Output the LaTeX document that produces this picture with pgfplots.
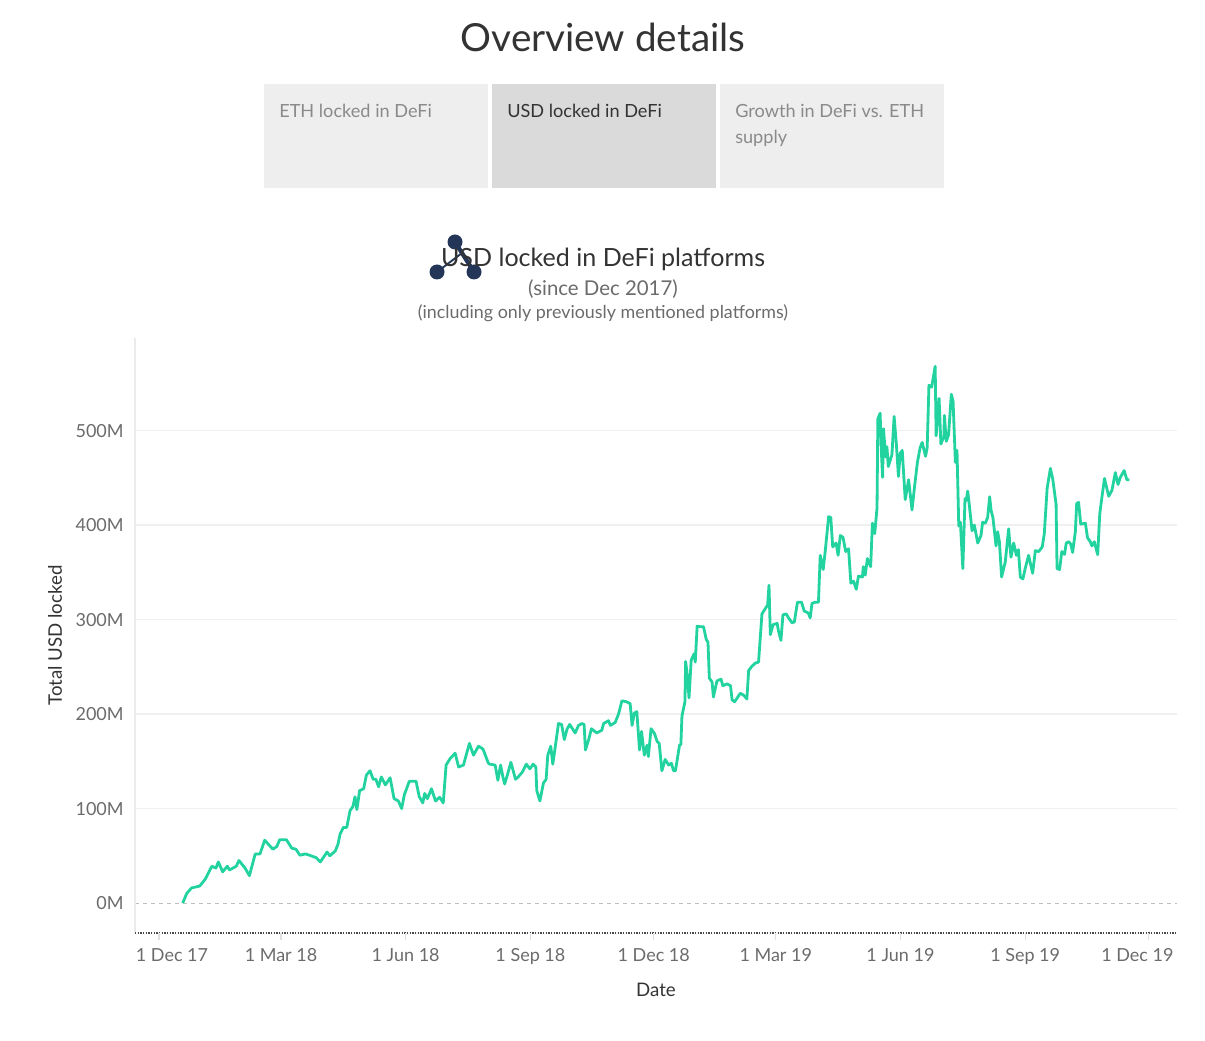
\documentclass[border=0pt]{standalone}
\usepackage{pgfplots}
\pgfplotsset{compat=1.18}
\usepackage{fontspec}
\setmainfont{Lato}

\definecolor{titlegray}{HTML}{333333}
\definecolor{tickgray}{HTML}{6B6B6B}
\definecolor{tabgray}{HTML}{8A8A8A}
\definecolor{tabfill}{HTML}{EEEEEE}
\definecolor{tabsel}{HTML}{DADADA}
\definecolor{gridgray}{HTML}{F0F0F0}
\definecolor{defigreen}{HTML}{22D3A0}
\definecolor{iconnavy}{HTML}{243657}

\begin{document}
\begin{tikzpicture}
% page frame and header, in pixel units (y measured up from the bottom)
\begin{scope}[x=0.75pt,y=0.75pt]
  \path (0,0) rectangle (1205,1040);
  \node[anchor=base, text=titlegray, font=\fontsize{29}{34}\selectfont] at (603,988) {Overview details};

  % tabs
  \fill[tabfill] (264,852) rectangle (488,956);
  \fill[tabsel]  (492,852) rectangle (716,956);
  \fill[tabfill] (720,852) rectangle (944,956);
  \node[anchor=base west, inner sep=0, text=tabgray, font=\fontsize{13.6}{19.5}\selectfont] at (279,922) {ETH locked in DeFi};
  \node[anchor=base west, inner sep=0, text=titlegray, font=\fontsize{13.6}{19.5}\selectfont] at (507,922) {USD locked in DeFi};
  \node[anchor=base west, inner sep=0, text=tabgray, font=\fontsize{13.6}{19.5}\selectfont] at (735,922) {Growth in DeFi vs. ETH};
  \node[anchor=base west, inner sep=0, text=tabgray, font=\fontsize{13.6}{19.5}\selectfont] at (735,896) {supply};

  % chart titles
  \draw[iconnavy, line width=3.2pt] (455,798) -- (474,768);
  \draw[iconnavy, line width=1.4pt] (437,768) -- (462,787);
  \fill[iconnavy] (455,798) circle (7.5);
  \fill[iconnavy] (437,768) circle (7.5);
  \fill[iconnavy] (474,768) circle (7.5);
  \node[anchor=base, text=titlegray, font=\fontsize{18.8}{22}\selectfont] at (603,773) {USD locked in DeFi platforms};
  \node[anchor=base, text=tickgray, font=\fontsize{15.3}{18}\selectfont] at (603,744) {(since Dec 2017)};
  \node[anchor=base, text=tickgray, font=\fontsize{13.4}{16}\selectfont] at (603,721) {(including only previously mentioned platforms)};
\end{scope}

\begin{axis}[
  at={(101.25pt,80.25pt)}, anchor=south west,
  width=781.5pt, height=446.25pt, scale only axis,
  xmin=-17.7, xmax=751, ymin=-31.7, ymax=598,
  axis line style={draw=none},
  major tick length=0pt,
  ytick={100,200,300,400,500},
  yticklabels={100M,200M,300M,400M,500M},
  extra y ticks={0}, extra y tick labels={0M},
  extra y tick style={grid style={draw=black!25, dashed, line width=0.6pt}},
  ymajorgrids,
  grid style={draw=gridgray, line width=1.3pt},
  xtick={9.6,90,182,274,365,455,547,639,721.8},
  xticklabels={1 Dec 17,1 Mar 18,1 Jun 18,1 Sep 18,1 Dec 18,1 Mar 19,1 Jun 19,1 Sep 19,1 Dec 19},
  tick label style={text=tickgray, font=\fontsize{13.5}{16}\selectfont},
  yticklabel style={anchor=east, xshift=-5pt},
  xticklabel style={anchor=base, yshift=-21.5pt},
  xlabel={Date},
  ylabel={Total USD locked},
  label style={text=titlegray, font=\fontsize{14}{16}\selectfont},
  xlabel style={at={(axis description cs:0.5,-0.096)}, anchor=center},
  ylabel style={at={(axis description cs:-0.0768,0.5)}, anchor=center, rotate=0},
  clip=false,
]
% axis frame lines
\draw[draw=black!8, line width=1pt] (rel axis cs:0,0) -- (rel axis cs:0,1);
\draw[draw=black!70, line width=1pt, densely dotted] (rel axis cs:0,0) -- (rel axis cs:1,0);
\pgfplotsinvokeforeach{0,90,182,274,365,455,547,639,730}{
  \draw[draw=black!12, line width=0.8pt] (axis cs:#1,-31.7) -- ++(0pt,-5pt);
}

\addplot[defigreen, line width=2.1pt, line join=round] coordinates {
(17.5,0)(20.4,10)(24,16)(30,18)(34,25)(39,39)(42,37)(43.8,43.5)(47,33)(50.4,39)(52,35)(57,39)(59,45)(63.5,37)(66.7,29)(71,52)(74.5,52)(78,66.5)(84,57)(87,60)(89,67)(94,67)(98,58)(101,57)(104,50.6)(108,52)(111,50.6)(116,48)(119,43.5)(124,54)(126,50)(130,55)(132,62)(133.6,73)(136,80)(138.5,80)(141,98)(143,102)(144.6,112.5)(146,99)(148,119)(151,121)(153,135.5)(155.7,140)(158,131)(160,131)(162,123)(164,133.5)(167,125)(170.5,132.6)(173.4,110.5)(176.6,108)(179,100)(181,114.6)(184.7,129)(189.6,129)(192,112.5)(194.6,106)(196,116)(198,110.5)(201,121)(204,108)(207,112)(209.7,106)(211.8,146)(214.8,153)(218.5,158.6)(221,144)(224.6,146)(226.6,156.5)(229,169)(232,156.5)(235.7,166)(239,163)(243,148)
(244,147)(248,146)(250,130)(252,146)(253.7,133.5)(255,126)(257,135.5)(259.6,149)(263,131)(265,133.5)(268,138.5)(271,147)(273.6,142)(276,147)(278,144)(278.7,119)(281,108)(283.6,127)(285.6,131)(286.8,156.5)(289,166)(290.5,147)(292,162)(294.7,190)(297,189)(299,173)(301,184)(303,189)(307,180)(309.5,188)(312,190)(313.6,189)(314.6,162)(317,173)(319,184.5)(323,180)(326.7,183)(328,190)(331.6,193)(333,188)(336.5,191)(339,200)(341.5,214)(345,213)(347.6,211)(349,188)(350.6,201)(352.5,202.5)(354.5,162)(356,181.6)(358,156.5)(360,167)(361,155)(363,184.5)(365.5,179.5)(367.5,171)(369,169)(371,140)(373.4,152)(376,146)(378,148)(379.6,140)(381,140)(384,167)(385,168)(385.8,198)(388,213)(388.5,255.6)(390,238)(391,217)(392.6,257)(394.8,264)(395.6,255)(397,293)(399,292.5)(401.7,292.5)(403.7,279)(405,276)(406,238)(408,234)(409,218)(411.6,235)(414.6,237)(416,230)(419,232)(421.6,230)(422.8,215)(424.6,213)(427,218)(428.8,222)(431.3,220)(433.7,216)(435,246)(437.4,250.6)(440,254)(442.3,255)(444.8,306)(447,311)(449,315.5)(450,336.4)(451,284)(453,294.6)(456,296)(457,288)(458.8,278)(460.3,305)(462.7,306)(464.5,301.7)(467,296.6)(468.7,297.5)(471,318.4)(474,318.4)(476,309)(479,307)(480.4,301.7)(481.7,317)(484,318.4)(486.5,318.4)
(487.8,368)(490,353)(491.6,374)(494,409)(495.6,408)(497,377)(499.5,381)(501,368)(502.6,389)(504.6,387)(506.6,372)(508.7,375)(510.4,338.5)(512.4,340.6)(514.4,332)(516,346)(518.9,345)(519.6,356)(521,347)(522.6,364.6)(525,356)(526.3,402)(528,391)(529.7,418)(530.3,512.5)(532,518.4)(532.8,481)(533.8,450.6)(534.5,502)(536,472)(537,483)(538,462)(540.7,474.5)(542.3,515)(544,485)(545.5,451.5)(546.8,476)(548.3,479)(550.5,427)(553,448)(555.5,416)(557.6,443.5)(559.5,466.5)(561.5,482)(563,487.5)(565.5,472.8)(566.7,482)(568,548)(570,546)(572.6,568)(573.3,494.5)(575.5,534)(576.8,485.8)(579,493.7)(579.4,516)(580.8,488.7)(582.5,495.8)(584.5,538.5)(585.8,531)(587.5,466.5)(588.7,479)(590,399)(591.2,403)(593,354)(594.6,428)(595.5,426)(596.6,436)(597.8,421)(599.8,394)(601.5,400)(604,381)(606.4,389)(607.6,403)(609.6,402)(611.3,408)(612.8,430)(613.8,416)(615.2,408)(617.5,378)(618.7,393)(620,382)(621.6,345)(624.3,361)(626.8,396)(628.5,366)(630.5,381)(632.5,368)(634,374)(635.4,345)(637.3,343)(639,354)(641.5,368)(644.5,349)(646.5,373)(649,372)(651.6,377)(653.1,391)(655.2,439)(657.6,460)(659.3,449)(661.8,422)(662.5,354)(664.4,353)(666,372)(668,369)(669.3,381)(671,382.4)(672.6,380)(674,371)(676,393)(677,423)(678.4,424)(680,401)(683.4,402)(685,386.6)(687,382.4)(688.2,378)(690,382.4)(692.5,368.6)(694,411.7)(695.7,430.5)(697.5,449.4)(700.6,430.5)(703,436.8)(705.5,455.6)(707.5,443)(709.2,450.6)(712,457.7)(714,448)(715.8,448)
};
\end{axis}
\end{tikzpicture}
\end{document}
